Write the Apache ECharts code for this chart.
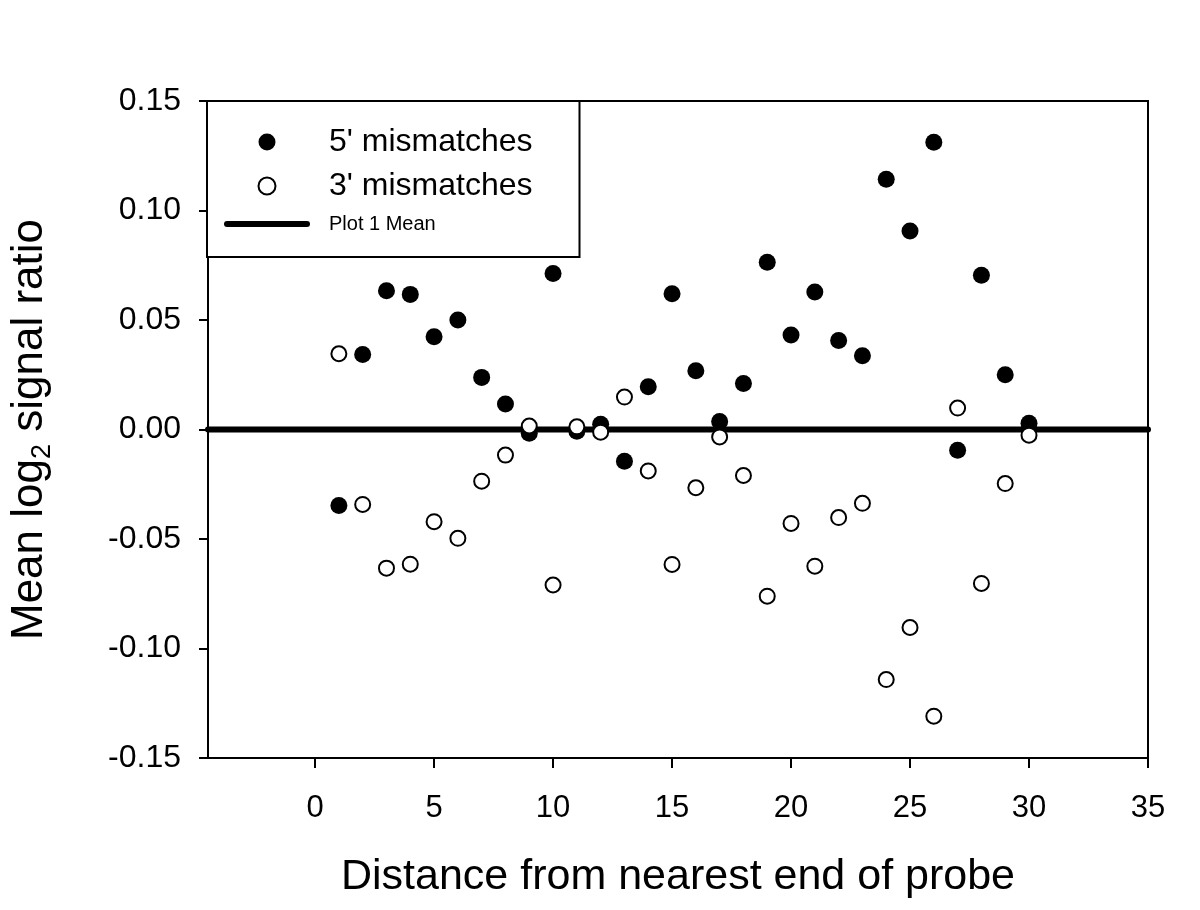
<!DOCTYPE html>
<html>
<head>
<meta charset="utf-8">
<script src="https://cdn.jsdelivr.net/npm/echarts@6/dist/echarts.min.js"></script>
<style>
html,body{margin:0;padding:0;background:#fff;}
#chart{width:1200px;height:910px;}
</style>
</head>
<body>
<div id="chart"></div>
<script>
// ---- data ----
const distances = [1,2,3,4,5,6,7,8,9,10,11,12,13,14,15,16,17,18,19,20,21,22,23,24,25,26,27,28,29,30];
const fivePrime = [-0.0347,0.0342,0.0634,0.0617,0.0423,0.0500,0.0238,0.0116,-0.0017,0.0712,-0.0008,0.0024,-0.0145,0.0195,0.0620,0.0268,0.0037,0.0210,0.0764,0.0431,0.0628,0.0406,0.0337,0.1143,0.0906,0.1312,-0.0095,0.0704,0.0250,0.0028];
const threePrime = [0.0346,-0.0342,-0.0633,-0.0615,-0.0421,-0.0497,-0.0236,-0.0117,0.0016,-0.0710,0.0012,-0.0012,0.0148,-0.0189,-0.0616,-0.0266,-0.0034,-0.0210,-0.0761,-0.0429,-0.0624,-0.0402,-0.0337,-0.1142,-0.0904,-0.1309,0.0098,-0.0703,-0.0247,-0.0026];
const meanValue = 0;
const xTicks = [0,5,10,15,20,25,30,35];
const xRange = [-4.5, 35];
const yRange = [-0.15, 0.15];
const yStep = 0.05;
const seriesNames = ["5' mismatches", "3' mismatches", "Plot 1 Mean"];

const FONT = "'Liberation Sans', Arial, Helvetica, sans-serif";
const chart = echarts.init(document.getElementById('chart'), null, {renderer: 'canvas'});

const option = {
  backgroundColor: '#fff',
  animation: false,
  textStyle: {fontFamily: FONT, color: '#000'},
  grid: {
    left: 208, right: 52, top: 101, bottom: 152,
    outerBoundsMode: 'none',
    containLabel: false,
    show: true, borderColor: '#000', borderWidth: 2, backgroundColor: 'transparent'
  },
  legend: {
    orient: 'vertical',
    left: 207, top: 101,
    padding: [25, 47, 23, 17],
    itemGap: 12,
    itemWidth: 86, itemHeight: 17,
    selectedMode: false,
    backgroundColor: '#fff',
    borderColor: '#000', borderWidth: 2,
    data: [
      {name: seriesNames[0], icon: 'circle'},
      {name: seriesNames[1], icon: 'circle'},
      {name: seriesNames[2], icon: 'path://M3,0L83,0A3,3,0,0,1,83,6L3,6A3,3,0,0,1,3,0Z'}
    ],
    formatter: function (name) {
      return name === seriesNames[2] ? '{s|' + name + '}' : '{b|' + name + '}';
    },
    textStyle: {
      fontFamily: FONT, color: '#000',
      rich: {
        b: {fontSize: 32, padding: [0,0,0,14], fontFamily: FONT, color: '#000'},
        s: {fontSize: 20, padding: [0,0,0,14], fontFamily: FONT, color: '#000'}
      }
    }
  },
  xAxis: {
    type: 'value',
    min: xRange[0], max: xRange[1],
    name: 'Distance from nearest end of probe',
    nameLocation: 'middle',
    nameGap: 98,
    nameTextStyle: {fontSize: 43, fontFamily: FONT, color: '#000'},
    splitLine: {show: false},
    axisLine: {show: true, onZero: false, lineStyle: {color: '#000', width: 2}},
    axisTick: {show: true, inside: false, length: 10, lineStyle: {color: '#000', width: 2}, customValues: xTicks},
    axisLabel: {fontSize: 31, color: '#000', fontFamily: FONT, margin: 35, customValues: xTicks}
  },
  yAxis: {
    type: 'value',
    min: yRange[0], max: yRange[1], interval: yStep,
    name: '{a|Mean log}{sub|2}{a| signal ratio}',
    nameLocation: 'middle',
    nameGap: 150,
    nameTextStyle: {
      fontFamily: FONT, color: '#000',
      rich: {
        a: {fontSize: 44, lineHeight: 56, fontFamily: FONT, color: '#000'},
        sub: {fontSize: 27, lineHeight: 56, padding: [26,0,0,0], fontFamily: FONT, color: '#000'}
      }
    },
    splitLine: {show: false},
    axisLine: {show: true, onZero: false, lineStyle: {color: '#000', width: 2}},
    axisTick: {show: true, inside: false, length: 9, lineStyle: {color: '#000', width: 2}},
    axisLabel: {fontSize: 32, color: '#000', fontFamily: FONT, margin: 27,
      formatter: v => v.toFixed(2)}
  },
  series: [
    {
      name: seriesNames[2],
      type: 'line',
      data: [[xRange[0], meanValue], [xRange[1], meanValue]],
      symbol: 'none',
      lineStyle: {color: '#000', width: 6, cap: 'round'},
      itemStyle: {color: '#000'},
      z: 1
    },
    {
      name: seriesNames[0],
      type: 'scatter',
      data: distances.map((d, i) => [d, fivePrime[i]]),
      symbol: 'circle',
      symbolSize: 17,
      itemStyle: {color: '#000', opacity: 1},
      z: 3
    },
    {
      name: seriesNames[1],
      type: 'scatter',
      data: distances.map((d, i) => [d, threePrime[i]]),
      symbol: 'circle',
      symbolSize: 15,
      itemStyle: {color: '#fff', borderColor: '#000', borderWidth: 2, opacity: 1},
      z: 4
    }
  ]
};
chart.setOption(option);
</script>
</body>
</html>
